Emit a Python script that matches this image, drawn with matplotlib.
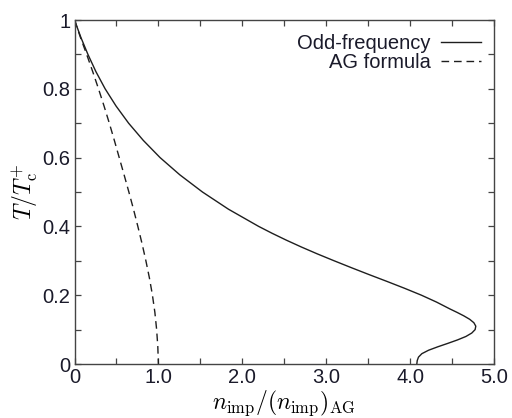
import matplotlib
matplotlib.use("Agg")
import matplotlib.pyplot as plt
from matplotlib.ticker import MultipleLocator, FixedLocator, FixedFormatter

# Odd-frequency curve
odd_y = [1.0, 0.95, 0.9, 0.85, 0.8, 0.75, 0.7, 0.65, 0.6, 0.55, 0.5, 0.45,
         0.4, 0.38, 0.36, 0.34, 0.32, 0.3, 0.28, 0.26, 0.24, 0.22, 0.2, 0.18,
         0.16, 0.15, 0.14, 0.13, 0.12, 0.11, 0.10, 0.09, 0.08, 0.07, 0.06,
         0.05, 0.04, 0.03, 0.02, 0.01, 0.0]
odd_x = [0.0, 0.075, 0.16, 0.255, 0.365, 0.495, 0.645, 0.82, 1.02, 1.255, 1.525, 1.835,
         2.195, 2.355, 2.525, 2.705, 2.895, 3.095, 3.30, 3.51, 3.725, 3.935, 4.135, 4.315,
         4.475, 4.56, 4.64, 4.71, 4.76, 4.783, 4.775, 4.735, 4.665, 4.565, 4.45,
         4.33, 4.22, 4.14, 4.1, 4.085, 4.08]

# AG formula curve
ag_y = [1.0, 0.95, 0.9, 0.85, 0.8, 0.75, 0.7, 0.65, 0.6, 0.55, 0.5, 0.45,
        0.4, 0.35, 0.3, 0.25, 0.2, 0.15, 0.1, 0.05, 0.0]
ag_x = [0.0, 0.07, 0.145, 0.217, 0.286, 0.352, 0.415, 0.475, 0.533, 0.591, 0.648, 0.703,
        0.755, 0.805, 0.851, 0.893, 0.929, 0.958, 0.979, 0.993, 1.0]

xticks = [0, 1, 2, 3, 4, 5]
xticklabels = ["0", "1.0", "2.0", "3.0", "4.0", "5.0"]
yticks = [0, 0.2, 0.4, 0.6, 0.8, 1.0]
yticklabels = ["0", "0.2", "0.4", "0.6", "0.8", "1"]

plt.rcParams['mathtext.fontset'] = 'cm'
plt.rcParams['font.family'] = ['Liberation Sans', 'DejaVu Sans']

fig = plt.figure(figsize=(5.12, 4.18), dpi=100)
ax = fig.add_axes([74.5/512, 1-364/418, (494-74.5)/512, 344/418])

line_col = '#1e1e1e'
ax.plot(odd_x, odd_y, color=line_col, lw=1.0, label='Odd-frequency')
ax.plot(ag_x, ag_y, color=line_col, lw=1.0, linestyle=(0, (5.5, 3.5)), label='AG formula')

ax.set_xlim(0, 5)
ax.set_ylim(0, 1)
ax.xaxis.set_major_locator(FixedLocator(xticks))
ax.xaxis.set_major_formatter(FixedFormatter(xticklabels))
ax.yaxis.set_major_locator(FixedLocator(yticks))
ax.yaxis.set_major_formatter(FixedFormatter(yticklabels))
ax.xaxis.set_minor_locator(MultipleLocator(0.5))
ax.yaxis.set_minor_locator(MultipleLocator(0.1))

spine_col = '#444444'
for s in ax.spines.values():
    s.set_color(spine_col)
    s.set_linewidth(1.0)
ax.tick_params(which='both', direction='in', top=True, right=True,
               length=4.5, width=0.9, color=spine_col,
               labelsize=14.5, labelcolor='#1a1a2a', pad=3)

ax.set_xlabel(r'$n_{\mathrm{imp}}/(n_{\mathrm{imp}})_{\mathrm{AG}}$', fontsize=17, labelpad=1)
ax.set_ylabel(r'$T/T_{\mathrm{c}}^{+}$', fontsize=17, labelpad=2)

leg = ax.legend(loc='upper right', bbox_to_anchor=(0.969, 0.958), frameon=False,
                markerfirst=False, fontsize=14.5, handlelength=2.0, handletextpad=0.5,
                labelspacing=0.0, borderpad=0, borderaxespad=0)
for t in leg.get_texts():
    t.set_color('#1a1a2a')

fig.savefig('out.png', dpi=100)
